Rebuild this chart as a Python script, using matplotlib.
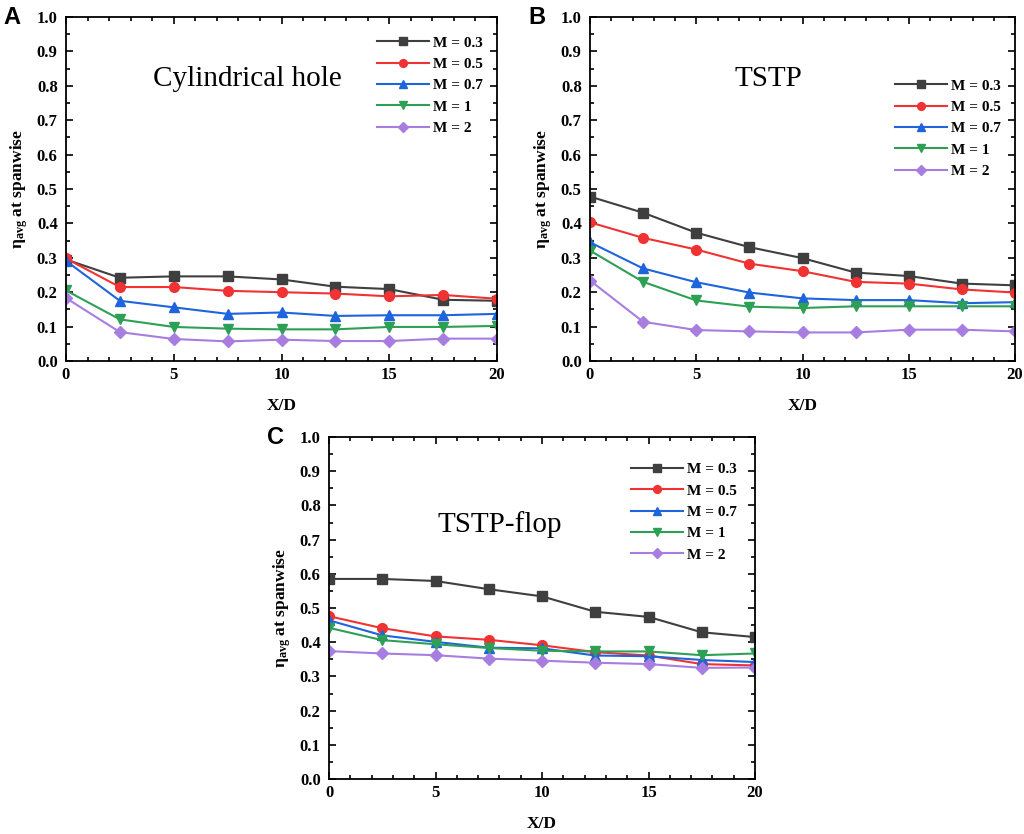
import matplotlib
matplotlib.use("Agg")
import matplotlib.pyplot as plt
from matplotlib.ticker import MultipleLocator, FormatStrFormatter

x = [0, 2.5, 5, 7.5, 10, 12.5, 15, 17.5, 20]
labels = ["M = 0.3", "M = 0.5", "M = 0.7", "M = 1", "M = 2"]

a_m03 = [0.295, 0.242, 0.246, 0.246, 0.237, 0.216, 0.209, 0.178, 0.175]
a_m05 = [0.298, 0.215, 0.215, 0.204, 0.200, 0.196, 0.188, 0.192, 0.181]
a_m07 = [0.291, 0.175, 0.156, 0.137, 0.141, 0.131, 0.133, 0.133, 0.137]
a_m1 = [0.205, 0.121, 0.099, 0.094, 0.092, 0.092, 0.099, 0.099, 0.102]
a_m2 = [0.183, 0.084, 0.064, 0.057, 0.062, 0.058, 0.058, 0.065, 0.065]

b_m03 = [0.478, 0.431, 0.373, 0.331, 0.299, 0.257, 0.247, 0.225, 0.220]
b_m05 = [0.403, 0.358, 0.324, 0.283, 0.261, 0.230, 0.225, 0.208, 0.199]
b_m07 = [0.345, 0.269, 0.229, 0.199, 0.182, 0.177, 0.177, 0.168, 0.171]
b_m1 = [0.321, 0.230, 0.176, 0.158, 0.154, 0.159, 0.159, 0.159, 0.159]
b_m2 = [0.234, 0.114, 0.090, 0.086, 0.083, 0.083, 0.091, 0.091, 0.086]

c_m03 = [0.585, 0.585, 0.579, 0.555, 0.534, 0.489, 0.474, 0.429, 0.415]
c_m05 = [0.476, 0.441, 0.417, 0.407, 0.391, 0.371, 0.361, 0.336, 0.332]
c_m07 = [0.464, 0.420, 0.401, 0.384, 0.382, 0.361, 0.359, 0.348, 0.342]
c_m1 = [0.442, 0.406, 0.394, 0.383, 0.375, 0.373, 0.373, 0.362, 0.367]
c_m2 = [0.374, 0.367, 0.362, 0.352, 0.346, 0.340, 0.336, 0.325, 0.326]

titles = ["Cylindrical hole", "TSTP", "TSTP-flop"]
panel_letters = ["A", "B", "C"]

colors = ["#3f3f3f", "#f03232", "#1e64dc", "#2ea055", "#a77ddf"]
markers = ["s", "o", "^", "v", "D"]
msizes = [6.5, 7, 7, 7, 6]

plt.rcParams['font.family'] = ['Liberation Serif', 'DejaVu Serif']
plt.rcParams['mathtext.fontset'] = 'custom'
plt.rcParams['mathtext.rm'] = 'Liberation Serif'
plt.rcParams['mathtext.it'] = 'Liberation Serif:italic'
plt.rcParams['mathtext.bf'] = 'Liberation Serif:bold'

fig = plt.figure(figsize=(10.24, 8.34), dpi=100)

positions = [
    [66 / 1024, 1 - 361 / 834, 431 / 1024, 344 / 834],
    [590 / 1024, 1 - 361 / 834, 425 / 1024, 344 / 834],
    [329 / 1024, 1 - 779 / 834, 426 / 1024, 342 / 834],
]
data = [
    [a_m03, a_m05, a_m07, a_m1, a_m2],
    [b_m03, b_m05, b_m07, b_m1, b_m2],
    [c_m03, c_m05, c_m07, c_m1, c_m2],
]
title_pos = [(0.42, 0.82), (0.42, 0.82), (0.40, 0.745)]
legend_anchor = [(1.0, 0.985), (1.0, 0.86), (0.99, 0.965)]

for i in range(3):
    ax = fig.add_axes(positions[i])
    for s in range(5):
        ax.plot(x, data[i][s], color=colors[s], marker=markers[s],
                markersize=msizes[s], linewidth=1.5, label=labels[s])
    ax.set_xlim(0, 20)
    ax.set_ylim(0, 1.0)
    ax.xaxis.set_major_locator(MultipleLocator(5))
    ax.xaxis.set_minor_locator(MultipleLocator(1))
    ax.yaxis.set_major_locator(MultipleLocator(0.1))
    ax.yaxis.set_minor_locator(MultipleLocator(0.05))
    ax.yaxis.set_major_formatter(FormatStrFormatter('%.1f'))
    ax.tick_params(which='both', direction='in', top=True, right=True,
                   labelsize=12, width=1.2, pad=6)
    ax.tick_params(axis='x', which='both', pad=4)
    ax.tick_params(which='major', length=5)
    ax.tick_params(which='minor', length=3)
    for lab in ax.get_xticklabels() + ax.get_yticklabels():
        lab.set_fontweight('bold')
    for sp in ax.spines.values():
        sp.set_linewidth(1.3)
    ax.set_xlabel("X/D", fontsize=12.5, fontweight='bold', labelpad=11)
    ax.set_ylabel(r"$\mathbf{\eta_{avg}}$ at spanwise", fontsize=12.5,
                  fontweight='bold', labelpad=5)
    ax.text(title_pos[i][0], title_pos[i][1], titles[i], transform=ax.transAxes,
            ha='center', va='center', fontsize=21)
    leg = ax.legend(loc='upper right', bbox_to_anchor=legend_anchor[i],
                    frameon=False, prop={'weight': 'bold', 'size': 11},
                    handlelength=3.4, labelspacing=0.5, handletextpad=0.3,
                    markerscale=0.8)
    ax.text(-0.125, 1.0, panel_letters[i], transform=ax.transAxes,
            ha='center', va='center', fontsize=17, fontweight='bold',
            family=['Liberation Sans', 'DejaVu Sans'])

fig.savefig("out.png", dpi=100)
